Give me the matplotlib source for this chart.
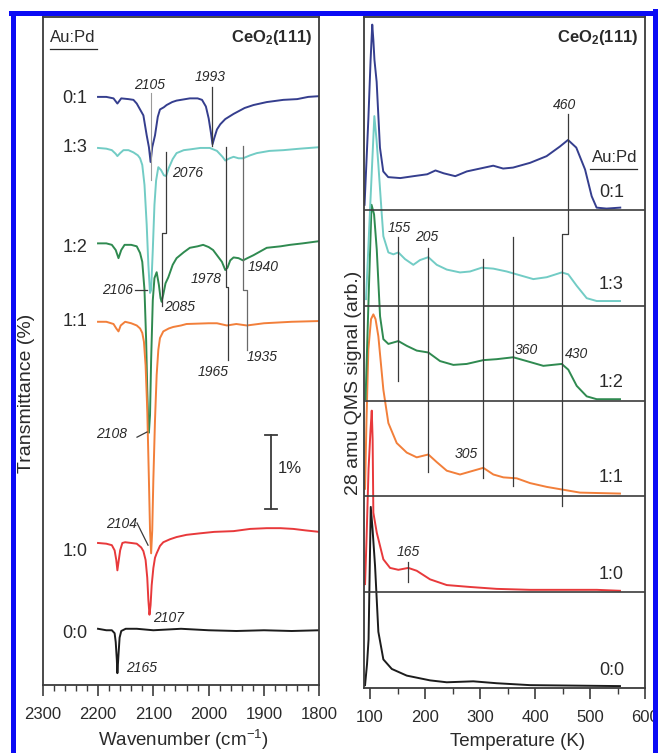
import matplotlib
matplotlib.use('Agg')
import matplotlib.pyplot as plt
from matplotlib.lines import Line2D
from matplotlib.ticker import MultipleLocator, FixedLocator

plt.rcParams['font.family'] = ['Liberation Sans', 'DejaVu Sans']
plt.rcParams['mathtext.fontset'] = 'custom'
plt.rcParams['mathtext.rm'] = 'Liberation Sans'
plt.rcParams['mathtext.it'] = 'Liberation Sans:italic'
plt.rcParams['mathtext.bf'] = 'Liberation Sans:bold'

# ---------------- IR spectra (wavenumber, transmittance %) ----------------
wn_00 = [2200, 2185, 2175, 2170, 2168, 2166, 2165, 2163, 2161, 2158, 2150, 2130, 2100, 2050, 2000, 1950, 1900, 1850, 1800]
tr_00 = [0.76, 0.74, 0.74, 0.70, 0.58, 0.34, 0.16, 0.41, 0.64, 0.73, 0.76, 0.76, 0.74, 0.76, 0.74, 0.73, 0.74, 0.73, 0.74]

wn_10 = [2200, 2185, 2175, 2170, 2167, 2165, 2163, 2160, 2156, 2151, 2140, 2130, 2122, 2118, 2114, 2111, 2109, 2107,
         2105, 2103, 2100, 2097, 2094, 2088, 2082, 2070, 2058, 2040, 2016, 1990, 1955, 1925, 1895, 1870, 1847, 1825, 1800]
tr_10 = [1.92, 1.91, 1.89, 1.82, 1.69, 1.55, 1.66, 1.82, 1.92, 1.93, 1.92, 1.91, 1.86, 1.81, 1.69, 1.45, 1.15, 0.95,
         1.08, 1.35, 1.58, 1.72, 1.78, 1.88, 1.93, 1.97, 2.00, 2.03, 2.05, 2.07, 2.08, 2.11, 2.12, 2.12, 2.11, 2.09, 2.07]

wn_11 = [2200, 2185, 2172, 2167, 2163, 2159, 2151, 2140, 2130, 2124, 2120, 2117, 2114, 2111, 2108, 2106, 2104, 2102,
         2100, 2097, 2094, 2091, 2088, 2082, 2072, 2064, 2050, 2040, 2000, 1985, 1967, 1950, 1931, 1900, 1850, 1800]
tr_11 = [4.91, 4.91, 4.88, 4.82, 4.78, 4.86, 4.91, 4.89, 4.86, 4.82, 4.76, 4.64, 4.32, 3.72, 2.77, 2.09, 1.78, 2.09,
         2.77, 3.58, 4.19, 4.53, 4.69, 4.78, 4.82, 4.84, 4.86, 4.88, 4.89, 4.89, 4.86, 4.88, 4.86, 4.89, 4.91, 4.92]

wn_12 = [2200, 2185, 2175, 2168, 2163, 2158, 2152, 2140, 2130, 2124, 2120, 2116, 2113, 2111, 2109, 2108, 2106, 2104,
         2101, 2098, 2094, 2090, 2087, 2085, 2082, 2078, 2073, 2065, 2058, 2045, 2034, 2020, 2010, 2000, 1992, 1985,
         1976, 1970, 1966, 1961, 1955, 1946, 1938, 1930, 1919, 1907, 1895, 1870, 1853, 1830, 1800]
tr_12 = [5.97, 5.97, 5.95, 5.88, 5.77, 5.88, 5.95, 5.95, 5.93, 5.84, 5.72, 5.34, 4.66, 3.99, 3.51, 3.41, 3.65, 4.39,
         5.20, 5.50, 5.58, 5.41, 5.23, 5.18, 5.28, 5.43, 5.51, 5.68, 5.77, 5.85, 5.91, 5.93, 5.95, 5.92, 5.88, 5.81,
         5.72, 5.61, 5.64, 5.74, 5.78, 5.77, 5.74, 5.77, 5.81, 5.86, 5.91, 5.93, 5.95, 5.97, 6.00]

wn_13 = [2200, 2185, 2175, 2168, 2165, 2160, 2154, 2145, 2136, 2128, 2124, 2120, 2116, 2112, 2109, 2106, 2104, 2101,
         2098, 2095, 2091, 2086, 2081, 2077, 2072, 2065, 2058, 2045, 2034, 2015, 1998, 1985, 1975, 1970, 1962, 1955,
         1946, 1938, 1925, 1913, 1890, 1865, 1835, 1800]
tr_13 = [7.26, 7.25, 7.23, 7.18, 7.15, 7.19, 7.23, 7.23, 7.20, 7.16, 7.12, 7.03, 6.76, 6.22, 5.68, 5.30, 5.34, 5.88,
         6.49, 6.82, 7.00, 6.96, 6.89, 6.88, 6.99, 7.11, 7.19, 7.23, 7.24, 7.26, 7.26, 7.22, 7.14, 7.09, 7.12, 7.14,
         7.12, 7.12, 7.16, 7.19, 7.22, 7.23, 7.25, 7.27]

wn_01 = [2200, 2185, 2172, 2165, 2158, 2145, 2136, 2130, 2124, 2118, 2112, 2108, 2105, 2102, 2097, 2092, 2088, 2081,
         2076, 2066, 2058, 2034, 2020, 2012, 2005, 2000, 1996, 1993, 1990, 1985, 1979, 1970, 1955, 1935, 1919, 1895,
         1865, 1840, 1820, 1800]
tr_01 = [7.95, 7.95, 7.93, 7.86, 7.93, 7.92, 7.91, 7.86, 7.78, 7.70, 7.43, 7.27, 7.07, 7.27, 7.43, 7.68, 7.78, 7.81,
         7.84, 7.88, 7.90, 7.93, 7.93, 7.91, 7.82, 7.66, 7.47, 7.31, 7.39, 7.51, 7.58, 7.65, 7.72, 7.80, 7.84, 7.88,
         7.91, 7.92, 7.95, 7.96]

# ---------------- TPD (temperature K, 28 amu signal, stacked) ----------------
t_00 = [90.9, 94.5, 97.3, 99.1, 101.3, 104.5, 109.1, 115.1, 124.2, 139.5, 166.7, 209.1, 239.5, 287.8, 330.4, 390.9, 554.5]
s_00 = [0.02, 0.24, 0.50, 1.13, 1.89, 1.66, 1.27, 0.58, 0.29, 0.19, 0.12, 0.07, 0.05, 0.06, 0.04, 0.02, 0.01]

t_10 = [90.9, 93.6, 97.3, 100.9, 103.1, 104.7, 106, 112.2, 124.2, 136.4, 151.5, 169.6, 184.9, 209.1, 239.5, 281.8,
        330.4, 390.9, 451.5, 512.2, 554.5]
s_10 = [1.08, 1.55, 2.29, 2.70, 2.90, 2.60, 1.83, 1.62, 1.34, 1.25, 1.23, 1.25, 1.22, 1.13, 1.07, 1.05,
        1.03, 1.02, 1.02, 1.02, 1.01]

t_11 = [90.9, 93.6, 96.9, 101.8, 106, 110, 115.1, 124.2, 133.3, 148.5, 166.7, 184.9, 206, 221.3, 239.5, 263.6,
        287.8, 306, 324.2, 342.4, 366.7, 390.9, 421.3, 451.5, 481.8, 554.5]
s_11 = [2.08, 2.81, 3.54, 3.86, 3.91, 3.86, 3.68, 3.12, 2.77, 2.56, 2.46, 2.41, 2.44, 2.36, 2.27, 2.23,
        2.27, 2.30, 2.23, 2.20, 2.19, 2.14, 2.10, 2.07, 2.04, 2.03]

t_12 = [91.8, 97.3, 102.7, 107.3, 112.2, 118.2, 124.2, 133.3, 151.5, 166.7, 184.9, 206, 227.3, 251.5, 275.8, 306,
        330.4, 360.5, 384.9, 415.1, 448.5, 460.5, 475.8, 494, 512.2, 554.5]
s_12 = [3.02, 4.07, 5.06, 4.96, 4.59, 3.89, 3.65, 3.60, 3.63, 3.58, 3.53, 3.51, 3.42, 3.38, 3.39, 3.43,
        3.44, 3.46, 3.42, 3.37, 3.39, 3.33, 3.16, 3.05, 3.02, 3.02]

t_13 = [92.7, 100, 107.8, 111.8, 115.1, 121.3, 124.2, 133.3, 142.4, 151.5, 163.6, 178.7, 190.9, 206, 221.3, 239.5,
        263.6, 281.8, 303.1, 324.2, 348.5, 372.7, 396.9, 421.3, 448.5, 460.5, 475.8, 494, 512.2, 554.5]
s_13 = [4.07, 5.01, 5.99, 5.74, 5.48, 4.96, 4.73, 4.56, 4.54, 4.56, 4.49, 4.43, 4.48, 4.51, 4.43, 4.38,
        4.35, 4.36, 4.40, 4.39, 4.36, 4.32, 4.28, 4.30, 4.35, 4.33, 4.21, 4.08, 4.05, 4.05]

t_01 = [90, 97, 101, 104, 106, 108, 112, 118, 124, 133, 155, 179, 204, 219, 234, 255, 276, 300, 324, 342, 360,
        391, 421, 445, 460, 475, 491, 503, 512, 530, 555]
s_01 = [5.06, 5.97, 6.58, 6.95, 6.79, 6.58, 6.35, 5.66, 5.41, 5.35, 5.34, 5.36, 5.38, 5.42, 5.39, 5.36, 5.41,
        5.44, 5.47, 5.44, 5.45, 5.50, 5.57, 5.67, 5.74, 5.66, 5.43, 5.15, 5.03, 5.02, 5.03]

ratio_labels = ['0:0', '1:0', '1:1', '1:2', '1:3', '0:1']
colors = ['#1c1c1c', '#e8393b', '#f27f3a', '#2f8a50', '#72ccc5', '#353e8e']

ir_wn = [wn_00, wn_10, wn_11, wn_12, wn_13, wn_01]
ir_tr = [tr_00, tr_10, tr_11, tr_12, tr_13, tr_01]
tpd_t = [t_00, t_10, t_11, t_12, t_13, t_01]
tpd_s = [s_00, s_10, s_11, s_12, s_13, s_01]

W, H = 658, 753
fig = plt.figure(figsize=(W / 100, H / 100), dpi=100)

def fx(px):
    return px / W

def fy(py):
    return 1 - py / H

axL = fig.add_axes([fx(42.7), fy(685), fx(319.3) - fx(42.7), fy(17) - fy(685)])
axR = fig.add_axes([fx(364), fy(688), fx(645) - fx(364), fy(17) - fy(688)])

txt = '#2a2a2a'
spine_c = '#3c3c3c'
lw = 1.4

for ax in (axL, axR):
    for s in ax.spines.values():
        s.set_color(spine_c)
        s.set_linewidth(1.3)
    ax.set_yticks([])
    ax.tick_params(axis='x', which='major', direction='out', length=8, width=1.2,
                   colors=spine_c, labelsize=12, labelcolor=txt, pad=8)
    ax.tick_params(axis='x', which='minor', direction='out', length=4.5, width=1.0, colors=spine_c)

# ---------------- left panel ----------------
order_L = [0, 1, 3, 2, 4, 5]
for i in order_L:
    axL.plot(ir_wn[i], ir_tr[i], color=colors[i], lw=lw, solid_joinstyle='round')
axL.set_xlim(2300, 1800)
axL.set_ylim(0, 9.03)
axL.xaxis.set_major_locator(MultipleLocator(100))
axL.xaxis.set_minor_locator(MultipleLocator(20))

lab_y_L = [0.70, 1.80, 4.91, 5.92, 7.27, 7.93]
for i in range(6):
    axL.text(2241.6, lab_y_L[i], ratio_labels[i], fontsize=13, color=txt, ha='center', va='center')

axL.text(0.027, 0.970, 'Au:Pd', transform=axL.transAxes, fontsize=12, color=txt, ha='left', va='center')
axL.plot([0.027, 0.197], [0.952, 0.952], transform=axL.transAxes, color=txt, lw=0.9)
axL.text(0.974, 0.970, r'$\mathbf{CeO_2(111)}$', transform=axL.transAxes, fontsize=12, color=txt,
         ha='right', va='center')

ann_kw = dict(fontsize=10, style='italic', color=txt, va='center')
axL.text(2107.6, 8.11, '2105', ha='center', **ann_kw)
axL.text(1997.3, 8.22, '1993', ha='center', **ann_kw)
axL.text(2066.3, 6.92, '2076', ha='left', **ann_kw)
axL.text(2136.8, 5.34, '2106', ha='right', **ann_kw)
axL.text(2080.7, 5.11, '2085', ha='left', **ann_kw)
axL.text(2147.6, 3.39, '2108', ha='right', **ann_kw)
axL.text(2157.6, 2.17, '2104', ha='center', **ann_kw)
axL.text(2100.6, 0.91, '2107', ha='left', **ann_kw)
axL.text(2149.4, 0.23, '2165', ha='left', **ann_kw)
axL.text(1975.9, 5.49, '1978', ha='right', **ann_kw)
axL.text(1929.9, 5.65, '1940', ha='left', **ann_kw)
axL.text(1992.2, 4.23, '1965', ha='center', **ann_kw)
axL.text(1931.7, 4.43, '1935', ha='left', **ann_kw)

lc = '#3a3a3a'
llw = 0.9
axL.plot([2105, 2105], [8.0, 6.82], color='#9a9a9a', lw=0.8)
axL.plot([1993.4, 1993.4], [8.08, 7.28], color=lc, lw=llw)
axL.plot([2077.7, 2077.7, 2084.9, 2084.9], [7.21, 6.11, 6.11, 5.13], color=lc, lw=llw)
axL.plot([1968.7, 1968.7, 1964.5, 1964.5], [7.27, 5.38, 5.38, 4.39], color=lc, lw=llw)
axL.plot([1937.4, 1937.4, 1931.2, 1931.2], [7.28, 5.34, 5.34, 4.53], color='#6a6a6a', lw=llw)
axL.plot([2133, 2112], [5.34, 5.34], color=lc, lw=llw)
axL.plot([2129.5, 2111.5], [3.35, 3.42], color=lc, lw=llw)
axL.plot([2129.5, 2109.6], [2.19, 1.89], color=lc, lw=llw)

# scale bar 1 %
axL.plot([1887.8, 1887.8], [2.38, 3.38], color=lc, lw=1.3)
axL.plot([1898, 1877], [3.38, 3.38], color=lc, lw=1.3)
axL.plot([1898, 1877], [2.38, 2.38], color=lc, lw=1.3)
axL.text(1874.6, 2.93, '1%', fontsize=12, color=txt, ha='left', va='center')

# ---------------- right panel ----------------
for i in range(6):
    axR.plot(tpd_t[i], tpd_s[i], color=colors[i], lw=lw, solid_joinstyle='round')
axR.set_xlim(89, 600)
axR.set_ylim(-0.01, 7.03)
axR.xaxis.set_major_locator(MultipleLocator(100))
axR.xaxis.set_minor_locator(FixedLocator([150, 250, 350, 450, 550]))
for k in range(1, 6):
    axR.axhline(k, color=spine_c, lw=1.2)

lab_y_R = [0.17, 1.18, 2.20, 3.20, 4.22, 5.19]
for i in range(6):
    axR.text(561.8, lab_y_R[i], ratio_labels[i], fontsize=13, color=txt, ha='right', va='center')

axR.text(0.975, 0.970, r'$\mathbf{CeO_2(111)}$', transform=axR.transAxes, fontsize=12, color=txt,
         ha='right', va='center')
axR.text(0.972, 0.791, 'Au:Pd', transform=axR.transAxes, fontsize=12, color=txt, ha='right', va='center')
axR.plot([0.804, 0.972], [0.773, 0.773], transform=axR.transAxes, color=txt, lw=0.9)

axR.text(454.5, 6.11, '460', ha='center', **ann_kw)
axR.text(152.7, 4.82, '155', ha='center', **ann_kw)
axR.text(203.6, 4.72, '205', ha='center', **ann_kw)
axR.text(275.5, 2.44, '305', ha='center', **ann_kw)
axR.text(384.5, 3.54, '360', ha='center', **ann_kw)
axR.text(475.5, 3.49, '430', ha='center', **ann_kw)
axR.text(170.0, 1.42, '165', ha='center', **ann_kw)

axR.plot([460.5, 460.5, 449.6, 449.6], [6.01, 4.75, 4.75, 1.90], color=lc, lw=llw)
axR.plot([151.5, 151.5], [4.72, 3.21], color=lc, lw=llw)
axR.plot([206, 206], [4.61, 2.26], color=lc, lw=llw)
axR.plot([306, 306], [4.49, 2.19], color=lc, lw=llw)
axR.plot([360.6, 360.6], [4.72, 2.11], color=lc, lw=llw)
axR.plot([169.6, 169.6], [1.31, 1.10], color=lc, lw=llw)

# ---------------- axis titles ----------------
fig.text(fx(183), fy(740), r'Wavenumber (cm$^{\mathregular{-1}}$)', fontsize=13.5, color=txt, ha='center', va='center')
fig.text(fx(518), fy(741), 'Temperature (K)', fontsize=13.5, color=txt, ha='center', va='center')
fig.text(fx(27), fy(393), 'Transmittance (%)', fontsize=14, color=txt, ha='center', va='center', rotation=90)
fig.text(fx(353), fy(383), '28 amu QMS signal (arb.)', fontsize=14, color=txt, ha='center', va='center', rotation=90)

# blue frame
bc = '#0b0bf5'
fig.add_artist(Line2D([fx(12.5), fx(12.5)], [fy(12.5), 0], color=bc, lw=3.6))
fig.add_artist(Line2D([fx(10.7), fx(655)], [fy(12.5), fy(12.5)], color=bc, lw=3.6))
fig.add_artist(Line2D([fx(654.5), fx(654.5)], [fy(10.7), 0], color=bc, lw=3.6))

fig.savefig('out.png', dpi=100)
